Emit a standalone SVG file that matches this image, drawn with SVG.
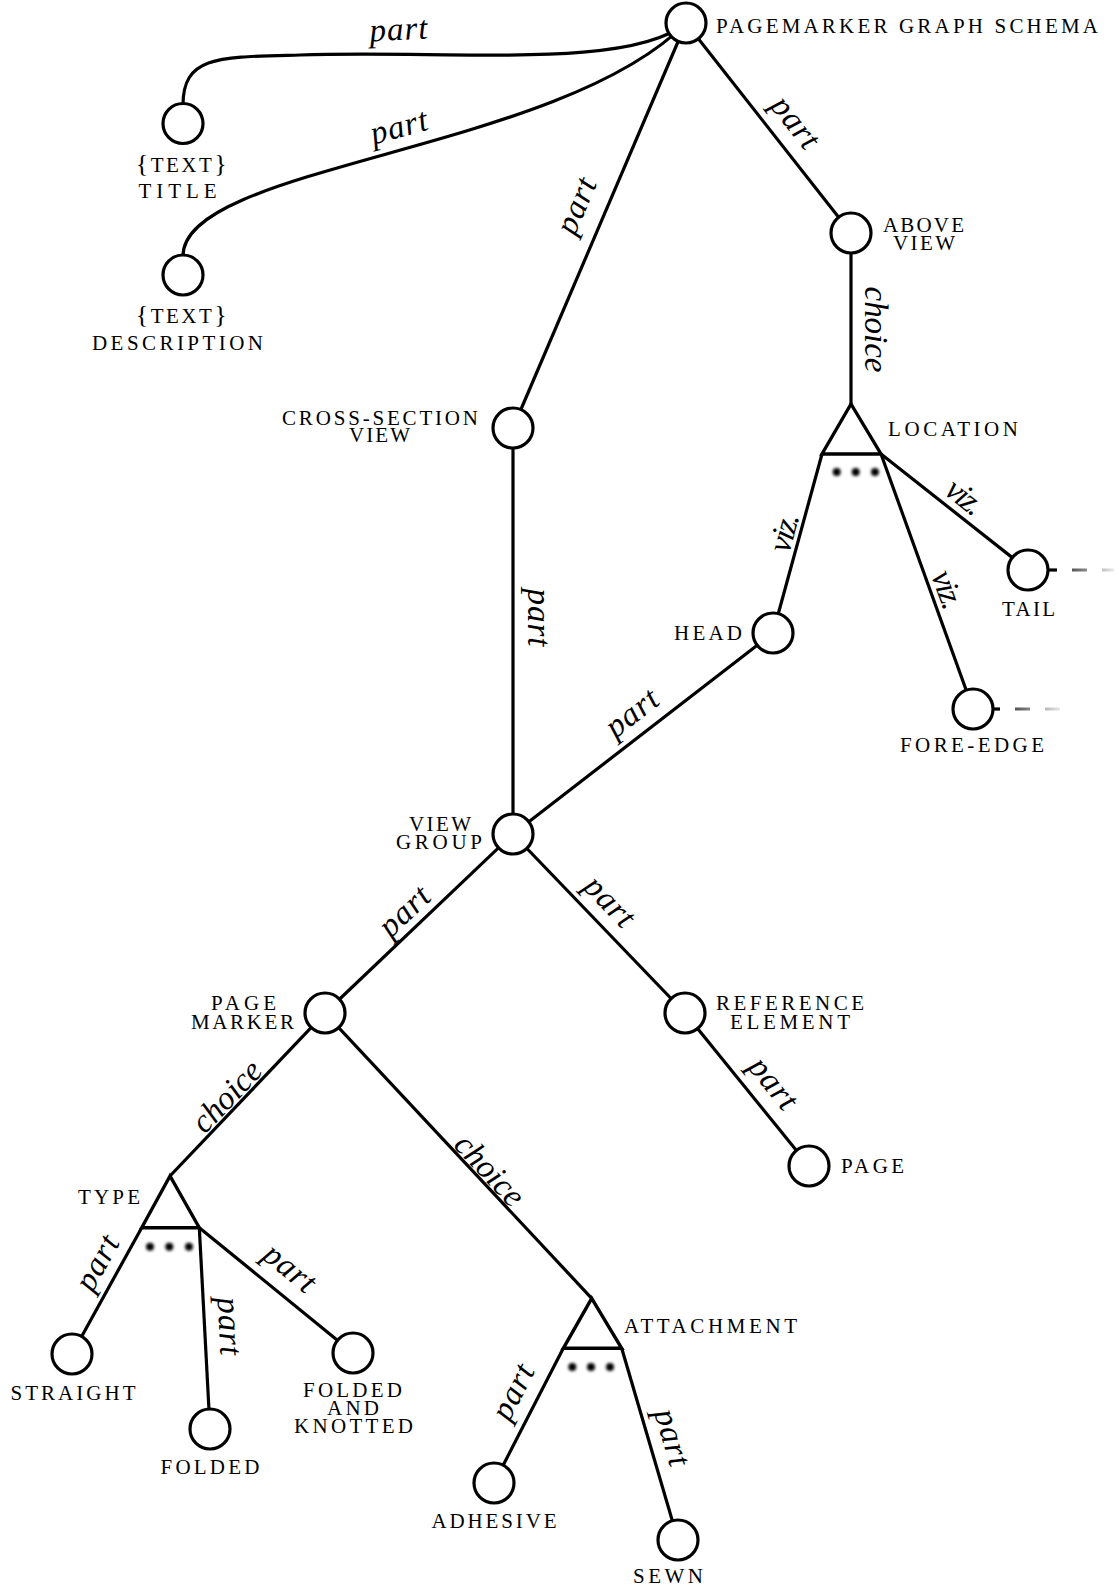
<svg xmlns="http://www.w3.org/2000/svg" width="1119" height="1591" viewBox="0 0 1119 1591">
<defs>
<style>
.e{fill:none;stroke:#000;stroke-width:3.2}
.n{fill:#fff;stroke:#000;stroke-width:3.2}
.tri{fill:#fff;stroke:#000;stroke-width:3.4;stroke-linejoin:miter}
.dot{fill:#000;filter:url(#blur)}
.lb{font-family:"Liberation Serif","Times New Roman",serif;font-size:21px;fill:#000}
.br{font-size:26px}
.el{font-family:"Liberation Serif","Times New Roman",serif;font-style:italic;font-size:33px;fill:#000}
</style>
<filter id="blur" x="-100%" y="-100%" width="300%" height="300%"><feGaussianBlur stdDeviation="1.6"/></filter>
<linearGradient id="gT" gradientUnits="userSpaceOnUse" x1="1062" y1="0" x2="1116" y2="0"><stop offset="0" stop-color="#333"/><stop offset="1" stop-color="#f2f2f2"/></linearGradient>
<linearGradient id="gF" gradientUnits="userSpaceOnUse" x1="1005" y1="0" x2="1063" y2="0"><stop offset="0" stop-color="#333"/><stop offset="1" stop-color="#f2f2f2"/></linearGradient>
</defs>
<rect width="1119" height="1591" fill="#fff"/>
<g id="connectors">
<path class="e" d="M183,105 C183,55 220,57 300,55 C450,50 630,70 686,23"/>
<path class="e" d="M183,256 C183,165 560,152 686,23"/>
<path class="e" d="M686,23 L513,428"/>
<path class="e" d="M686,23 L851,233"/>
<path class="e" d="M851,233 L851,404"/>
<path class="e" d="M822,454 L773,633"/>
<path class="e" d="M881,454 L973,709"/>
<path class="e" d="M881,454 L1028,570"/>
<path class="e" d="M513,428 L513,834"/>
<path class="e" d="M773,633 L513,834"/>
<path class="e" d="M513,834 L325,1013"/>
<path class="e" d="M513,834 L685,1013"/>
<path class="e" d="M685,1013 L809,1166"/>
<path class="e" d="M325,1013 L170,1176"/>
<path class="e" d="M325,1013 L591.7,1298.3"/>
<path class="e" d="M141.7,1227.7 L72,1354"/>
<path class="e" d="M199.3,1227.7 L210,1429"/>
<path class="e" d="M199.3,1227.7 L353,1353"/>
<path class="e" d="M563.3,1348.3 L494,1483"/>
<path class="e" d="M621.7,1348.3 L678,1540"/>
<path class="e" d="M1046,570 H1057"/>
<path d="M1072,570 H1087 M1102,570 H1114" fill="none" stroke="url(#gT)" stroke-width="3.2"/>
<path class="e" d="M991,709 H1000"/>
<path d="M1015,709 H1030 M1045,709 H1060" fill="none" stroke="url(#gF)" stroke-width="3.2"/>
<g id="edge-labels" class="el" text-anchor="middle">
<text transform="translate(399,40) rotate(-3)" textLength="58" lengthAdjust="spacing">part</text>
<text transform="translate(401.5,137) rotate(-15)" textLength="58" lengthAdjust="spacing">part</text>
<text transform="translate(586,209.9) rotate(-66.9)" textLength="58" lengthAdjust="spacing">part</text>
<text transform="translate(787.3,128.7) rotate(51.8)" textLength="58" lengthAdjust="spacing">part</text>
<text transform="translate(864.5,329.5) rotate(90)" textLength="86" lengthAdjust="spacing">choice</text>
<text transform="translate(794.2,535.1) rotate(-74.7)" textLength="39" lengthAdjust="spacing">viz.</text>
<text transform="translate(937.6,593.4) rotate(70.2)" textLength="39" lengthAdjust="spacing">viz.</text>
<text transform="translate(958.3,505.3) rotate(38.3)" textLength="39" lengthAdjust="spacing">viz.</text>
<text transform="translate(527.5,617.5) rotate(90)" textLength="58" lengthAdjust="spacing">part</text>
<text transform="translate(638.2,721.2) rotate(-37.7)" textLength="58" lengthAdjust="spacing">part</text>
<text transform="translate(411.6,918.8) rotate(-43.6)" textLength="58" lengthAdjust="spacing">part</text>
<text transform="translate(602.2,908.7) rotate(46.1)" textLength="58" lengthAdjust="spacing">part</text>
<text transform="translate(765.3,1089.8) rotate(51)" textLength="58" lengthAdjust="spacing">part</text>
<text transform="translate(234.5,1103.6) rotate(-46.4)" textLength="86" lengthAdjust="spacing">choice</text>
<text transform="translate(482,1177.5) rotate(46.9)" textLength="86" lengthAdjust="spacing">choice</text>
<text transform="translate(106.3,1267.9) rotate(-61.1)" textLength="58" lengthAdjust="spacing">part</text>
<text transform="translate(219,1326.8) rotate(87)" textLength="58" lengthAdjust="spacing">part</text>
<text transform="translate(283.2,1276.1) rotate(39.2)" textLength="58" lengthAdjust="spacing">part</text>
<text transform="translate(522.3,1396.7) rotate(-62.8)" textLength="58" lengthAdjust="spacing">part</text>
<text transform="translate(662.2,1440.2) rotate(73.6)" textLength="58" lengthAdjust="spacing">part</text>
</g>
</g>
<g id="node-root"><circle class="n" cx="686" cy="23" r="20"/><text class="lb" x="716" y="33" textLength="382" lengthAdjust="spacing">PAGEMARKER GRAPH SCHEMA</text></g>
<g id="node-title"><circle class="n" cx="183" cy="123.5" r="20"/><text class="lb" x="182.5" y="172" text-anchor="middle" letter-spacing="2.5"><tspan class="br">{</tspan>TEXT<tspan class="br">}</tspan></text><text class="lb" x="177.5" y="198" text-anchor="middle" textLength="78" lengthAdjust="spacing">TITLE</text></g>
<g id="node-description"><circle class="n" cx="183" cy="275" r="20"/><text class="lb" x="182.5" y="323" text-anchor="middle" letter-spacing="2.5"><tspan class="br">{</tspan>TEXT<tspan class="br">}</tspan></text><text class="lb" x="177.5" y="350" text-anchor="middle" textLength="171" lengthAdjust="spacing">DESCRIPTION</text></g>
<g id="node-above-view"><circle class="n" cx="851" cy="233" r="20"/><text class="lb" x="923.5" y="232" text-anchor="middle" textLength="81" lengthAdjust="spacing">ABOVE</text><text class="lb" x="924" y="250" text-anchor="middle" textLength="62" lengthAdjust="spacing">VIEW</text></g>
<g id="node-cross-section-view"><circle class="n" cx="513" cy="428" r="20"/><text class="lb" x="380" y="425" text-anchor="middle" textLength="196" lengthAdjust="spacing">CROSS-SECTION</text><text class="lb" x="379.5" y="442" text-anchor="middle" textLength="61" lengthAdjust="spacing">VIEW</text></g>
<g id="node-location"><polygon class="tri" points="851,404 822,454 881,454"/><circle class="dot" cx="836.7" cy="472" r="4"/><circle class="dot" cx="855.7" cy="472" r="4"/><circle class="dot" cx="875" cy="472" r="4"/><text class="lb" x="888" y="436" textLength="130" lengthAdjust="spacing">LOCATION</text></g>
<g id="node-head"><circle class="n" cx="773" cy="633" r="20"/><text class="lb" x="674" y="640" textLength="68" lengthAdjust="spacing">HEAD</text></g>
<g id="node-tail"><circle class="n" cx="1028" cy="570" r="20"/><text class="lb" x="1028.5" y="616" text-anchor="middle" textLength="53" lengthAdjust="spacing">TAIL</text></g>
<g id="node-fore-edge"><circle class="n" cx="973" cy="709" r="20"/><text class="lb" x="972" y="752" text-anchor="middle" textLength="144" lengthAdjust="spacing">FORE-EDGE</text></g>
<g id="node-view-group"><circle class="n" cx="513" cy="834" r="20"/><text class="lb" x="440" y="831" text-anchor="middle" textLength="62" lengthAdjust="spacing">VIEW</text><text class="lb" x="439" y="849" text-anchor="middle" textLength="86" lengthAdjust="spacing">GROUP</text></g>
<g id="node-page-marker"><circle class="n" cx="325" cy="1013" r="20"/><text class="lb" x="243.5" y="1010" text-anchor="middle" textLength="65" lengthAdjust="spacing">PAGE</text><text class="lb" x="242.5" y="1029" text-anchor="middle" textLength="103" lengthAdjust="spacing">MARKER</text></g>
<g id="node-reference-element"><circle class="n" cx="685" cy="1013" r="20"/><text class="lb" x="790" y="1010" text-anchor="middle" textLength="148" lengthAdjust="spacing">REFERENCE</text><text class="lb" x="790" y="1029" text-anchor="middle" textLength="120" lengthAdjust="spacing">ELEMENT</text></g>
<g id="node-page"><circle class="n" cx="809" cy="1166" r="20"/><text class="lb" x="841" y="1173" textLength="63" lengthAdjust="spacing">PAGE</text></g>
<g id="node-type"><polygon class="tri" points="170,1176 141.7,1227.7 199.3,1227.7"/><circle class="dot" cx="150" cy="1246.7" r="4"/><circle class="dot" cx="169.3" cy="1246.7" r="4"/><circle class="dot" cx="189" cy="1246.7" r="4"/><text class="lb" x="78" y="1204" textLength="62" lengthAdjust="spacing">TYPE</text></g>
<g id="node-attachment"><polygon class="tri" points="591.7,1298.3 563.3,1348.3 621.7,1348.3"/><circle class="dot" cx="572.3" cy="1367" r="4"/><circle class="dot" cx="591" cy="1367" r="4"/><circle class="dot" cx="610" cy="1367" r="4"/><text class="lb" x="624" y="1333" textLength="173" lengthAdjust="spacing">ATTACHMENT</text></g>
<g id="node-straight"><circle class="n" cx="72" cy="1354" r="20"/><text class="lb" x="73" y="1400" text-anchor="middle" textLength="125" lengthAdjust="spacing">STRAIGHT</text></g>
<g id="node-folded"><circle class="n" cx="210" cy="1429" r="20"/><text class="lb" x="210" y="1474" text-anchor="middle" textLength="99" lengthAdjust="spacing">FOLDED</text></g>
<g id="node-folded-and-knotted"><circle class="n" cx="353" cy="1353" r="20"/><text class="lb" x="352.5" y="1397" text-anchor="middle" textLength="99" lengthAdjust="spacing">FOLDED</text><text class="lb" x="353" y="1415" text-anchor="middle" textLength="52" lengthAdjust="spacing">AND</text><text class="lb" x="353.5" y="1433" text-anchor="middle" textLength="119" lengthAdjust="spacing">KNOTTED</text></g>
<g id="node-adhesive"><circle class="n" cx="494" cy="1483" r="20"/><text class="lb" x="494" y="1528" text-anchor="middle" textLength="125" lengthAdjust="spacing">ADHESIVE</text></g>
<g id="node-sewn"><circle class="n" cx="678" cy="1540" r="20"/><text class="lb" x="668" y="1583" text-anchor="middle" textLength="70" lengthAdjust="spacing">SEWN</text></g>
</svg>
